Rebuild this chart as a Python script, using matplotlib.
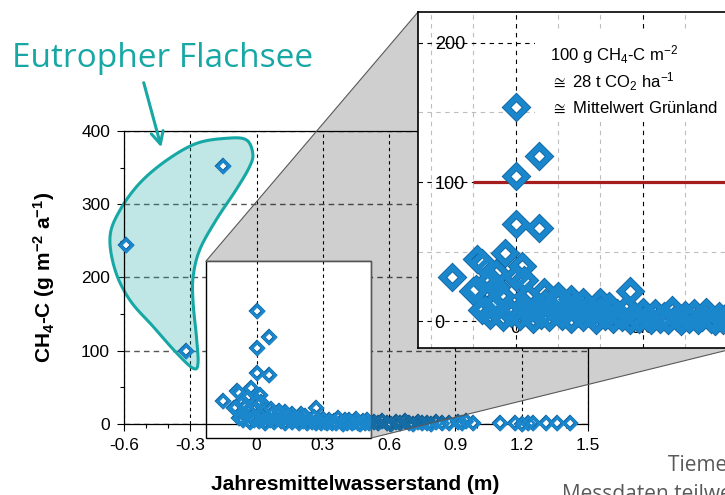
import numpy as np
import matplotlib.pyplot as plt
from matplotlib.patches import Polygon, Rectangle

plt.rcParams['font.family'] = ['Liberation Sans', 'DejaVu Sans']
plt.rcParams['axes.unicode_minus'] = False
plt.rcParams['mathtext.default'] = 'regular'

# Jahresmittelwasserstand (m) / CH4-C (g m-2 a-1)
flachsee_wl = [-0.59, -0.15, -0.32]
flachsee_ch4 = [245, 352, 100]

peak_wl = [0.0, 0.055, 0.0, 0.0, 0.055, 0.27, -0.15, -0.09, -0.025,
           -0.08, -0.045, 0.015, 0.0, -0.06, -0.094, -0.047, -0.071, -0.035,
           0.026, 0.066, 0.10, 0.13, 0.16, 0.20, -0.10, 0.02]
peak_ch4 = [154, 119, 104, 70, 67, 22, 32, 45, 49,
            42, 35, 40, 32, 30, 23, 25, 9, 18,
            18, 21, 18, 16, 14, 14, 22, 30]

band_wl = [-0.08, -0.06, -0.05, -0.03, -0.02, -0.01, 0.01, 0.02, 0.03, 0.04,
           0.05, 0.06, 0.07, 0.08, 0.09, 0.10, 0.11, 0.12, 0.13, 0.14,
           0.15, 0.16, 0.17, 0.18, 0.19, 0.20, 0.21, 0.22, 0.23, 0.24,
           0.25, 0.26, 0.27, 0.28, 0.29, 0.30, 0.31, 0.32, 0.33, 0.34,
           0.35, 0.36, 0.37, 0.38, 0.39, 0.40, 0.41, 0.42, 0.43, 0.44,
           0.45, 0.46, 0.47, 0.48, 0.49, 0.50, 0.51, 0.53, 0.55, 0.57,
           0.59, 0.61, 0.63, 0.65, 0.67, 0.69, 0.71, 0.73, 0.75, 0.77,
           0.79, 0.81, 0.84, 0.87, 0.91, 0.93, 0.95, 0.98, 1.10, 1.17,
           1.20, 1.23, 1.25, 1.31, 1.36, 1.42]
band_ch4 = [8, 5, 12, 3, 9, 6, 4, 11, 7, 2,
            10, 5, 13, 3, 8, 14, 4, 9, 2, 12,
            6, 3, 10, 5, 1, 8, 4, 11, 2, 6,
            3, 9, 1, 5, 2, 7, 3, 1, 6, 2,
            4, 1, 8, 3, 0, 5, 2, 6, 1, 3,
            7, 2, 0, 4, 1, 5, 2, 3, 1, 4,
            2, 0, 3, 1, 4, 2, 0, 3, 1, 2,
            0, 3, 1, 2, 3, 1, 4, 2, 1, 2,
            0, 2, 1, 2, 1, 2]

xtick_vals = [-0.6, -0.3, 0, 0.3, 0.6, 0.9, 1.2, 1.5]
xtick_labels = ['-0.6', '-0.3', '0', '0.3', '0.6', '0.9', '1.2', '1.5']
ytick_vals = [0, 100, 200, 300, 400]

# zoom window (main data coords)
zoom_x = (-0.23, 0.52)
zoom_y = (-19, 222)

# outline of the hand drawn lake marking
blob_x = [-0.017, -0.047, -0.137, -0.272, -0.407, -0.528, -0.618, -0.663, -0.64,
          -0.573, -0.468, -0.362, -0.287, -0.265, -0.272, -0.287, -0.287,
          -0.257, -0.182, -0.092, -0.032]
blob_y = [369, 388, 390, 383, 360, 329, 292, 256, 210,
          169, 133, 97, 76, 83, 119, 165, 201,
          238, 279, 320, 351]

teal = '#17a8a5'
dark_blue = '#10609c'
light_blue = '#1a86cc'

wl = flachsee_wl + peak_wl + band_wl
ch4 = flachsee_ch4 + peak_ch4 + band_ch4


def smooth_closed(xs, ys, n=20):
    p = np.column_stack([xs, ys])
    out = []
    k = len(p)
    t = np.linspace(0, 1, n, endpoint=False)[:, None]
    for i in range(k):
        p0, p1, p2, p3 = p[i - 1], p[i], p[(i + 1) % k], p[(i + 2) % k]
        seg = 0.5 * (2 * p1 + (-p0 + p2) * t + (2 * p0 - 5 * p1 + 4 * p2 - p3) * t ** 2
                     + (-p0 + 3 * p1 - 3 * p2 + p3) * t ** 3)
        out.append(seg)
    return np.vstack(out)


def diamonds(ax, x, y, ms, mew, z, clip=True):
    ax.plot(x, y, ls='none', marker='D', ms=ms, mfc='white', mec=dark_blue,
            mew=mew, zorder=z, clip_on=clip)
    ax.plot(x, y, ls='none', marker='D', ms=ms, mfc='none', mec=light_blue,
            mew=mew * 0.78, zorder=z, clip_on=clip)


fig = plt.figure(figsize=(7.25, 4.95), dpi=100)
ax = fig.add_axes([0.171, 0.1434, 0.640, 0.592])
ax_in = fig.add_axes([0.5766, 0.297, 0.4386, 0.6788])
ax_in.set_zorder(2)

# ---- main plot
ax.set_xlim(-0.6, 1.5)
ax.set_ylim(0, 400)
ax.set_xticks(xtick_vals, xtick_labels)
ax.set_xticks(np.arange(-0.6, 1.55, 0.1), minor=True)
ax.set_yticks(ytick_vals)
ax.set_yticks(np.arange(0, 401, 50), minor=True)
ax.tick_params(which='major', direction='out', length=5, width=0.8, labelsize=12.5, pad=5)
ax.tick_params(which='minor', direction='out', length=3, width=0.8)
ax.set_axisbelow(True)
ax.grid(axis='x', color='black', ls=(0, (3, 3)), lw=0.8)
ax.grid(axis='y', color='#555555', ls=(0, (4, 3)), lw=1.0)
for s in ax.spines.values():
    s.set_linewidth(0.9)

ax.set_xlabel('Jahresmittelwasserstand (m)', fontsize=15, fontweight='bold')
ax.xaxis.set_label_coords(0.498, -0.175)
ax.set_ylabel('CH$_4$-C (g m$^{-2}$ a$^{-1}$)', fontsize=15, fontweight='bold')
ax.yaxis.set_label_coords(-0.145, 0.5)

# lake marking
bl = smooth_closed(blob_x, blob_y)
ax.add_patch(Polygon(bl, closed=True, fc=teal, alpha=0.27, ec='none', zorder=1, clip_on=False))
ax.add_patch(Polygon(bl, closed=True, fc='none', ec=teal, lw=2.2, zorder=1.1, clip_on=False))

# zoom box
ax.add_patch(Rectangle((zoom_x[0], zoom_y[0]), zoom_x[1] - zoom_x[0], zoom_y[1] - zoom_y[0],
                       fc='white', ec='black', lw=1.0, zorder=1.5, clip_on=False))
ax.vlines([0, 0.3], 0, zoom_y[1], color='black', ls=(0, (3, 3)), lw=0.8, zorder=1.6)

diamonds(ax, wl, ch4, 6, 2.6, 3, clip=False)

# ---- inset
ax_in.set_xlim(*zoom_x)
ax_in.set_ylim(*zoom_y)
ax_in.set_xticks([0, 0.3], ['0', '0.3'])
ax_in.set_xticks([-0.2, -0.1, 0.1, 0.2, 0.4, 0.5], minor=True)
ax_in.set_yticks([0, 100, 200], ['0', '100', '200'], ha='left')
ax_in.set_yticks([50, 150], minor=True)
ax_in.tick_params(which='both', length=0)
ax_in.tick_params(axis='y', pad=-12, labelsize=13)
ax_in.tick_params(axis='x', pad=-20, labelsize=13)
ax_in.set_axisbelow(True)
ax_in.grid(which='major', color='black', ls=(0, (4, 4)), lw=0.8)
ax_in.grid(which='minor', color='#bdbdbd', ls=(0, (4, 4)), lw=0.8)
for s in ax_in.spines.values():
    s.set_linewidth(1.2)

ax_in.add_patch(Rectangle((0.368, 0.673), 0.64, 0.27, transform=ax_in.transAxes,
                          fc='white', ec='none', zorder=1))
ax_in.hlines(100, -0.1, 0.6, color='#a51c1c', lw=2.3, zorder=2)
diamonds(ax_in, wl, ch4, 10.2, 5.0, 3)

ax_in.text(0.415, 0.872, '100 g CH$_4$-C m$^{-2}$', transform=ax_in.transAxes,
           fontsize=12, va='center', ha='left', zorder=4)
ax_in.text(0.415, 0.792, '$\\cong$ 28 t CO$_2$ ha$^{-1}$', transform=ax_in.transAxes,
           fontsize=12, va='center', ha='left', zorder=4)
ax_in.text(0.415, 0.714, '$\\cong$ Mittelwert Grünland', transform=ax_in.transAxes,
           fontsize=12, va='center', ha='left', zorder=4)

# ---- connector between zoom box and inset
inv = fig.transFigure.inverted()
r_tl = inv.transform(ax.transData.transform((zoom_x[0], zoom_y[1])))
r_tr = inv.transform(ax.transData.transform((zoom_x[1], zoom_y[1])))
r_br = inv.transform(ax.transData.transform((zoom_x[1], zoom_y[0])))
pos = ax_in.get_position()
verts = [r_tl, (pos.x0, pos.y1), (pos.x1, pos.y0), r_br, r_tr]
fig.add_artist(Polygon(verts, closed=True, transform=fig.transFigure,
                       fc=(0, 0, 0, 0.19), ec=(0.35, 0.35, 0.35, 1), lw=0.8, zorder=1))

# ---- annotations
fig.text(12 / 725, 1 - 67 / 495, 'Eutropher Flachsee', color=teal, fontsize=24,
         family='Open Sans', va='baseline', ha='left')
ax.annotate('', xy=(162 / 725, 1 - 150 / 495), xytext=(143 / 725, 1 - 80 / 495),
            xycoords='figure fraction', textcoords='figure fraction',
            arrowprops=dict(arrowstyle='->', color=teal, lw=2.2, mutation_scale=22))

# source notes, cut by the slide edge as in the original
fig.text(668 / 725, 1 - 471 / 495, 'Tiemeyer et al.', color='#595959', fontsize=15,
         family='Open Sans', va='baseline', ha='left')
fig.text(562 / 725, 1 - 500 / 495, 'Messdaten teilweise', color='#595959', fontsize=15,
         family='Open Sans', va='baseline', ha='left')

fig.savefig('out.png', dpi=100)
